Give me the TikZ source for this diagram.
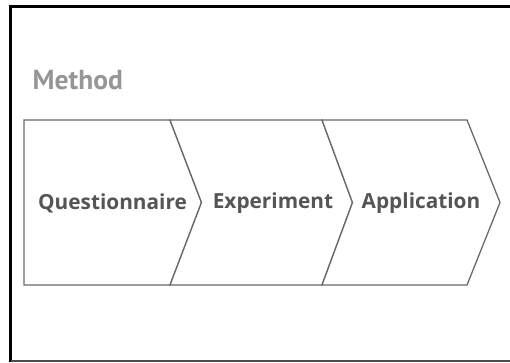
\documentclass[tikz,border=0pt]{standalone}
\usepackage{fontspec}
\newfontfamily\titlefont{PT Sans}
\newfontfamily\labelfont{Open Sans}
\definecolor{titlegray}{RGB}{150,150,150}
\definecolor{textgray}{RGB}{85,85,85}
\definecolor{edgegray}{RGB}{105,105,105}
\tikzset{
  chev/.style={draw=edgegray, line width=1.3pt, fill=white, line join=miter},
  steplabel/.style={font=\labelfont\bfseries\fontsize{20.8}{23}\selectfont, text=textgray, inner sep=0pt, anchor=center},
}
\begin{document}
\begin{tikzpicture}[x=1pt,y=-1pt]
\useasboundingbox (0,0) rectangle (510,362);
\fill[white] (0,0) rectangle (510,362);
% frame
\draw[black, line width=3.2pt] (10.7,362) -- (10.7,6.7) -- (510,6.7);
\draw[black!70, line width=1.8pt] (10.7,361.1) -- (510,361.1);
% title
\node[font=\titlefont\bfseries\fontsize{27.5}{30}\selectfont, text=titlegray, anchor=base west, inner sep=0pt] (title) at (32.5,89.5) {Method};
% chevrons
\draw[chev] (24,120) -- (170,120) -- (201.5,202.5) -- (170,285) -- (24,285) -- cycle;
\draw[chev] (170,120) -- (322,120) -- (352.5,202.5) -- (322,285) -- (170,285) -- (201.5,202.5) -- cycle;
\draw[chev] (322,120) -- (467,120) -- (500,202.5) -- (467,285) -- (322,285) -- (352.5,202.5) -- cycle;
% labels
\node[steplabel] (q) at (112.5,203) {Questionnaire};
\node[steplabel] (e) at (273,203) {Experiment};
\node[steplabel] (a) at (421,203) {Application};
\end{tikzpicture}
\end{document}
